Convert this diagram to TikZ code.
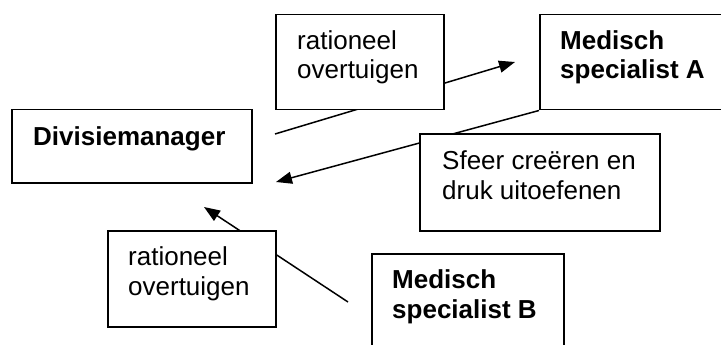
\documentclass[tikz,border=0pt]{standalone}
\usepackage{fontspec}
\setmainfont{Liberation Sans}
\usetikzlibrary{arrows.meta,backgrounds,positioning}

\begin{document}
\begin{tikzpicture}[x=1pt,y=-1pt,
		kader/.style={draw,line width=1.5pt,fill=white,inner sep=0pt,anchor=north west},
		tekst/.style={inner sep=0pt,anchor=base west,align=left,font=\fontsize{26}{29.5}\selectfont},
		pijl/.style={line width=1.5pt,-{Triangle[length=16pt,width=12pt]}}]
	\useasboundingbox (0,0) rectangle (721,345);
	% kaders
	\node[kader,minimum width=240pt,minimum height=73pt] (dm) at (11,109) {};
	\node[kader,minimum width=168pt,minimum height=95pt] (rat1) at (275,14) {};
	\node[kader,minimum width=200pt,minimum height=95pt] (ma) at (539,14) {};
	\node[kader,minimum width=240pt,minimum height=97pt] (sfeer) at (419,133) {};
	\node[kader,minimum width=168pt,minimum height=96pt] (rat2) at (107,230) {};
	\node[kader,minimum width=192pt,minimum height=110pt] (mb) at (371,253) {};
	% teksten (base = laatste regel)
	\node[tekst] (dmtxt) at ([shift={(22,37)}]dm.north west) {\textbf{Divisiemanager}};
	\node[tekst] (rat1txt) at ([shift={(22,65)}]rat1.north west) {rationeel\\overtuigen};
	\node[tekst] (matxt) at ([shift={(21,65)}]ma.north west) {\textbf{Medisch}\\\textbf{specialist A}};
	\node[tekst] (sfeertxt) at ([shift={(23,66)}]sfeer.north west) {Sfeer creëren en\\druk uitoefenen};
	\node[tekst] (rat2txt) at ([shift={(21,65)}]rat2.north west) {rationeel\\overtuigen};
	\node[tekst] (mbtxt) at ([shift={(21,65)}]mb.north west) {\textbf{Medisch}\\\textbf{specialist B}};
	% pijlen
	\coordinate (van1) at (275,134);
	\coordinate (naar1) at (515,62);
	\coordinate (naar2) at (276,182);
	\coordinate (van3) at (348,302);
	\coordinate (naar3) at (204,207);
	\begin{scope}[on background layer]
		\draw[pijl] (van1) -- (naar1);
		\draw[pijl] (ma.south west) -- (naar2);
		\draw[pijl] (van3) -- (naar3);
	\end{scope}
\end{tikzpicture}
\end{document}
